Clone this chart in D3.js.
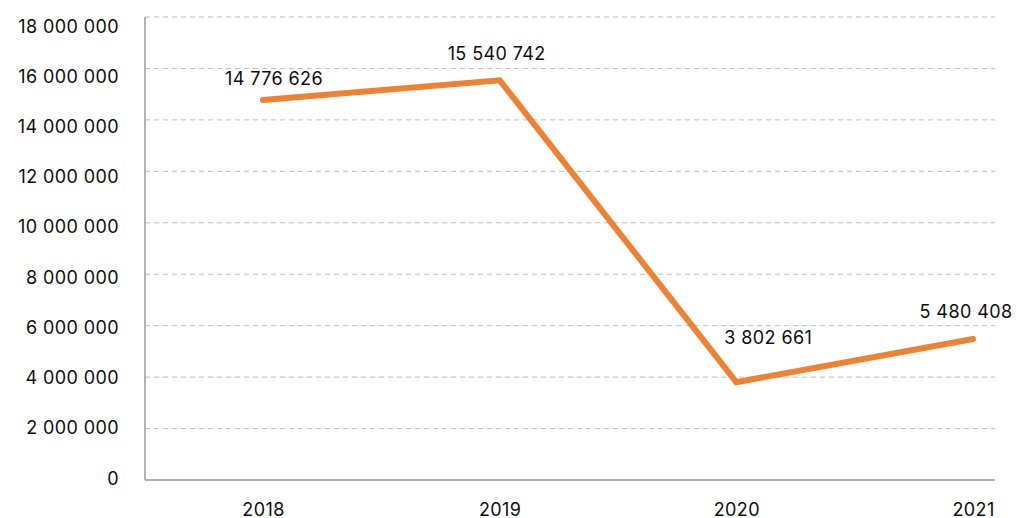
<!DOCTYPE html>
<html>
<head>
<meta charset="utf-8">
<script src="https://cdn.jsdelivr.net/npm/d3@7"></script>
<style>
  html, body { margin: 0; padding: 0; background: #fff; }
  svg text { font-family: Inter, "Noto Sans", sans-serif; fill: #0d0d0d; font-weight: 400; letter-spacing: 0.4px; }
</style>
</head>
<body>
<svg id="chart" width="1016" height="518"></svg>
<script>
// Yearly totals
const years = ["2018", "2019", "2020", "2021"];
const totals = [14776626, 15540742, 3802661, 5480408];
const yTicks = [0, 2000000, 4000000, 6000000, 8000000, 10000000, 12000000, 14000000, 16000000, 18000000];
// Label nudges relative to each point [dx, dy]
const labelOffsets = [[11, -21.5], [-3, -27], [32, -45], [-7, -28]];

const svg = d3.select("#chart");
const plot = { left: 145, right: 995, top: 17, bottom: 480 };

const x = d3.scalePoint().domain(years).range([263, 973]);
const y = d3.scaleLinear().domain([0, 18000000]).range([plot.bottom, plot.top]);
// Tick labels sit on a slightly tighter ladder than the gridlines
const yLabel = d3.scaleLinear().domain([0, 18000000]).range([477.5, 25.5]);

const fmt = v => d3.format(",")(v).replace(/,/g, " ");
const FONT = 18;

// Dashed horizontal gridlines
svg.append("g")
  .selectAll("line")
  .data(yTicks.filter(t => t > 0))
  .join("line")
  .attr("x1", plot.left).attr("x2", plot.right)
  .attr("y1", d => y(d)).attr("y2", d => y(d))
  .attr("stroke", "#bdbdbd")
  .attr("stroke-width", 1)
  .attr("stroke-dasharray", "5,4");

// Y axis labels
const yAxis = svg.append("g")
  .attr("transform", `translate(119,0)`)
  .call(d3.axisLeft(yLabel).tickValues(yTicks).tickFormat(fmt).tickSize(0).tickPadding(0));
yAxis.select(".domain").remove();
yAxis.selectAll("text").attr("font-size", FONT).attr("dy", null)
  .attr("dominant-baseline", "central")
  .style("font-family", "Inter, sans-serif");

// X axis labels
const xAxis = svg.append("g")
  .attr("transform", `translate(0,${plot.bottom})`)
  .call(d3.axisBottom(x).tickSize(0).tickPadding(0));
xAxis.select(".domain").remove();
xAxis.selectAll("text").attr("font-size", FONT).attr("dy", null).attr("y", 29)
  .attr("dominant-baseline", "central")
  .style("font-family", "Inter, sans-serif");

// Axis lines
svg.append("line")
  .attr("x1", plot.left).attr("x2", plot.left)
  .attr("y1", plot.top).attr("y2", plot.bottom)
  .attr("stroke", "#b3b3b3").attr("stroke-width", 2);
svg.append("line")
  .attr("x1", plot.left).attr("x2", plot.right)
  .attr("y1", plot.bottom).attr("y2", plot.bottom)
  .attr("stroke", "#b3b3b3").attr("stroke-width", 2);

// Series line
const data = years.map((yr, i) => ({ year: yr, value: totals[i] }));
svg.append("path")
  .datum(data)
  .attr("fill", "none")
  .attr("stroke", "#ef8133")
  .attr("stroke-width", 6)
  .attr("stroke-linecap", "round")
  .attr("stroke-linejoin", "miter")
  .attr("d", d3.line().x(d => x(d.year)).y(d => y(d.value)));

// Value labels
svg.append("g")
  .selectAll("text")
  .data(data)
  .join("text")
  .attr("x", (d, i) => x(d.year) + labelOffsets[i][0])
  .attr("y", (d, i) => y(d.value) + labelOffsets[i][1])
  .attr("text-anchor", "middle")
  .attr("dominant-baseline", "central")
  .attr("font-size", FONT)
  .text(d => fmt(d.value));
</script>
</body>
</html>
